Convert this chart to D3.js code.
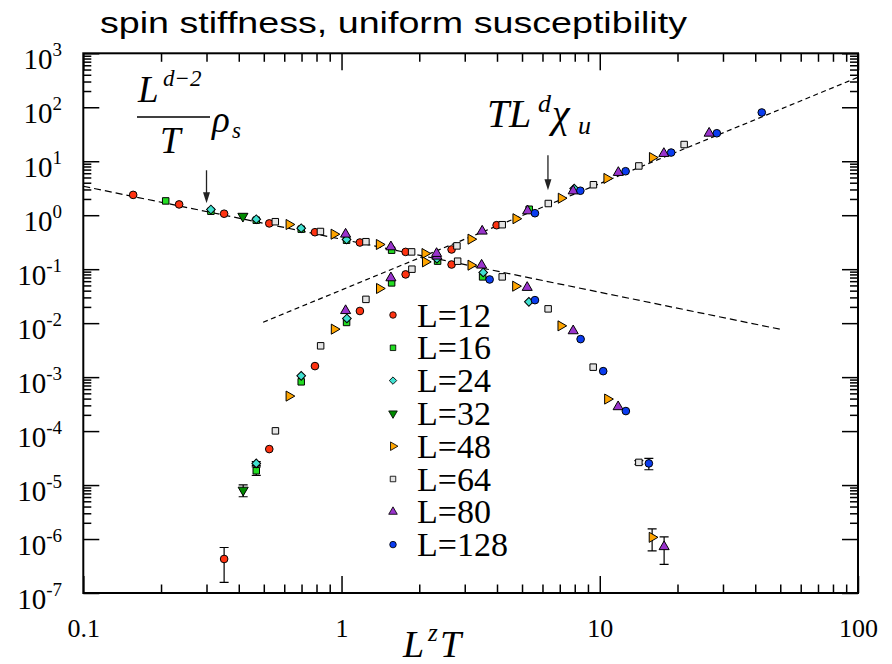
<!DOCTYPE html>
<html>
<head>
<meta charset="utf-8">
<script src="https://cdn.jsdelivr.net/npm/d3@7"></script>
</head>
<body style="margin:0;background:#fff">
<svg id="chart" width="892" height="664"></svg>
<script>
// values: [L^z T, value, (error)]
var rhoL12 = [[0.156,2.38],[0.235,1.585],[0.351,1.066],[0.525,0.705],[0.789,0.484],[1.178,0.312],[1.771,0.209],[2.668,0.122]];
var chiL12 = [[0.351,4.27e-7,2.7e-7],[0.525,4.64e-5],[0.789,1.60e-3],[1.178,0.0168],[1.771,0.080],[2.668,0.232],[3.986,0.653]];
var rhoL16 = [[0.2085,1.84],[0.312,1.186],[0.4675,0.808],[0.698,0.551],[1.046,0.344],[1.563,0.225],[2.355,0.141],[3.518,0.072]];
var chiL16 = [[0.4675,1.84e-5,3.3e-6],[0.698,8.18e-4],[1.046,0.0103],[1.563,0.0557],[5.33,1.29]];
var rhoL24 = [[0.312,1.275],[0.4675,0.843],[0.698,0.574],[1.046,0.355],[2.341,0.1565],[3.537,0.0869],[5.315,0.0248]];
var chiL24 = [[0.4675,2.52e-5,2e-6],[0.698,1.057e-3],[1.049,0.01222],[7.96,3.12]];
var rhoL32 = [[0.415,0.958]];
var chiL32 = [[0.416,8.07e-6,2e-6]];
var rhoL48 = [[0.626,0.673],[0.935,0.445],[1.40,0.2867],[2.103,0.195],[3.17,0.1186],[4.72,0.0484],[7.07,8.91e-3],[10.72,3.92e-4],[15.95,1.075e-6,4.7e-7]];
var chiL48 = [[0.626,4.45e-4],[0.937,7.74e-3],[1.402,0.0439],[2.112,0.1365],[3.17,0.36],[4.733,0.861],[7.09,2.065],[10.65,4.80],[15.98,11.71]];
var rhoL64 = [[0.554,0.758],[0.8285,0.499],[1.243,0.323],[1.868,0.209],[2.816,0.1406],[4.19,0.072],[6.31,0.0184],[9.43,1.53e-3],[14.17,2.63e-5,2e-6]];
var chiL64 = [[0.5546,1.01e-4],[0.830,3.80e-3],[1.243,0.0276],[1.873,0.1],[2.798,0.27],[4.19,0.667],[6.32,1.647],[9.45,3.67],[14.17,8.18],[21.22,20.4]];
var rhoL80 = [[1.037,0.445],[1.553,0.259],[2.341,0.174],[3.487,0.1186],[5.236,0.0458],[7.89,7.2e-3],[11.78,2.82e-4],[17.75,7.2e-7,3.8e-7]];
var chiL80 = [[1.037,0.01704],[1.553,0.069],[2.334,0.195],[3.505,0.506],[5.255,1.201],[7.89,2.81],[11.8,6.18],[17.71,13.89],[26.52,33.0]];
var rhoL128 = [[3.745,0.0645],[5.61,0.0267],[8.43,5.06e-3],[10.31,1.29e-3],[12.62,2.35e-4],[15.49,2.52e-5,6e-6]];
var chiL128 = [[5.61,1.089],[8.41,2.84],[12.59,6.53],[18.9,14.49],[28.4,33.0],[42.4,80.1]];

var legendNames = ["L=12", "L=16", "L=24", "L=32", "L=48", "L=64", "L=80", "L=128"];

// dashed guide lines (two end points each)
var fitRho = [[0.1, 3.44], [50, 0.0077]];
var fitChi = [[0.497, 0.0104], [100, 359]];

// arrows: x, from, to
var arrowX = [0.3, 6.3];
var arrowFrom = [6.8, 12.9];
var arrowTo = [1.67, 2.9];

var xTicks = [0.1, 1, 10, 100];
var xTickLabels = ["0.1", "1", "10", "100"];
var yExponents = [-7, -6, -5, -4, -3, -2, -1, 0, 1, 2, 3];

// styles
var SERIF = "Liberation Serif";
var SANS = "Liberation Sans";
var fills = ["#ff3311", "#22dd22", "#40e0d0", "#008b00", "#ffa500", "#e4e4e4", "#9933cc", "#0a3cf0"];
var shapes = ["circle", "square", "diamond", "down", "right", "square", "up", "circle"];

var series = legendNames.map(function(n, i) {
    return {name: n, rho: [rhoL12, rhoL16, rhoL24, rhoL32, rhoL48, rhoL64, rhoL80, rhoL128][i],
            chi: [chiL12, chiL16, chiL24, chiL32, chiL48, chiL64, chiL80, chiL128][i],
            fill: fills[i], shape: shapes[i]};
});

var frame = {left: 83.3, right: 858, top: 53.3, bottom: 593};
var svg = d3.select("#chart");

var x = d3.scaleLog().domain([0.1, 100]).range([frame.left, frame.right]);
var y = d3.scaleLog().domain([1e-7, 1e3]).range([frame.bottom, frame.top]);

// title
svg.append("text")
    .attr("x", 100).attr("y", 33)
    .attr("textLength", 587).attr("lengthAdjust", "spacingAndGlyphs")
    .attr("font-family", SANS)
    .attr("font-size", 30)
    .text("spin stiffness, uniform susceptibility");

// minor tick values
var xMinor = [];
[-1, 0, 1].forEach(function(e) { for (var k = 2; k <= 9; k++) xMinor.push(k * Math.pow(10, e)); });
var yMinor = [];
[-6, -4, -2, 0, 2].forEach(function(e) { for (var k = 2; k <= 9; k++) yMinor.push(k * Math.pow(10, e)); });
var yMajor = yExponents.map(function(e) { return Math.pow(10, e); });

function tickStyle(g) {
    g.attr("font-family", SERIF);
    g.select(".domain").remove();
    g.selectAll("line").attr("stroke", "#000").attr("stroke-width", 1.5);
}

// bottom axis
svg.append("g").attr("transform", "translate(0," + frame.bottom + ")")
    .call(d3.axisBottom(x).tickValues(xMinor).tickSizeInner(-8.5).tickSizeOuter(0).tickFormat(""))
    .call(tickStyle);
var xb = svg.append("g").attr("transform", "translate(0," + frame.bottom + ")")
    .call(d3.axisBottom(x).tickValues(xTicks).tickSizeInner(-17).tickSizeOuter(0)
        .tickFormat(function(d, i) { return xTickLabels[i]; }))
    .call(tickStyle)
    .attr("font-size", 26);
xb.selectAll("text").attr("y", 44).attr("dy", 0).attr("fill", "#000");

// top axis
svg.append("g").attr("transform", "translate(0," + frame.top + ")")
    .call(d3.axisTop(x).tickValues(xMinor).tickSizeInner(-8.5).tickSizeOuter(0).tickFormat(""))
    .call(tickStyle);
svg.append("g").attr("transform", "translate(0," + frame.top + ")")
    .call(d3.axisTop(x).tickValues(xTicks).tickSizeInner(-17).tickSizeOuter(0).tickFormat(""))
    .call(tickStyle);

// left axis
svg.append("g").attr("transform", "translate(" + frame.left + ",0)")
    .call(d3.axisLeft(y).tickValues(yMinor).tickSizeInner(-8).tickSizeOuter(0).tickFormat(""))
    .call(tickStyle);
var yl = svg.append("g").attr("transform", "translate(" + frame.left + ",0)")
    .call(d3.axisLeft(y).tickValues(yMajor).tickSizeInner(-16).tickSizeOuter(0).tickFormat(""))
    .call(tickStyle)
    .attr("font-size", 29);
yl.selectAll(".tick").each(function(d, i) {
    var t = d3.select(this).append("text")
        .attr("x", 62 - frame.left).attr("y", 15)
        .attr("text-anchor", "end").attr("fill", "#000");
    t.append("tspan").text("10");
    t.append("tspan").attr("dy", -13).attr("font-size", 19).text(yExponents[i]);
});

// right axis
svg.append("g").attr("transform", "translate(" + frame.right + ",0)")
    .call(d3.axisRight(y).tickValues(yMinor).tickSizeInner(-8).tickSizeOuter(0).tickFormat(""))
    .call(tickStyle);
svg.append("g").attr("transform", "translate(" + frame.right + ",0)")
    .call(d3.axisRight(y).tickValues(yMajor).tickSizeInner(-16).tickSizeOuter(0).tickFormat(""))
    .call(tickStyle);

// frame
svg.append("rect")
    .attr("x", frame.left).attr("y", frame.top)
    .attr("width", frame.right - frame.left).attr("height", frame.bottom - frame.top)
    .attr("fill", "none").attr("stroke", "#000").attr("stroke-width", 2);

// dashed guide lines
var line = d3.line().x(function(d) { return x(d[0]); }).y(function(d) { return y(d[1]); });
svg.append("path").attr("d", line(fitRho))
    .attr("fill", "none").attr("stroke", "#000").attr("stroke-width", 1.2).attr("stroke-dasharray", "7,4");
svg.append("path").attr("d", line(fitChi))
    .attr("fill", "none").attr("stroke", "#000").attr("stroke-width", 1.2).attr("stroke-dasharray", "5,3.5");

// arrows
arrowX.forEach(function(ax, i) {
    var px = x(ax), y0 = y(arrowFrom[i]), y1 = y(arrowTo[i]);
    svg.append("line").attr("x1", px).attr("x2", px).attr("y1", y0).attr("y2", y1 - 8)
        .attr("stroke", "#222").attr("stroke-width", 1.3);
    svg.append("path")
        .attr("d", "M" + (px - 3.5) + "," + (y1 - 11) + "L" + (px + 3.5) + "," + (y1 - 11) + "L" + px + "," + y1 + "Z")
        .attr("fill", "#222");
});

// math annotations
function mathText(g, px, py, size, s) {
    return g.append("text").attr("x", px).attr("y", py)
        .attr("font-family", SERIF).attr("font-style", "italic")
        .attr("font-size", size).text(s);
}
var ann1 = svg.append("g");
mathText(ann1, 138, 102, 37, "L");
mathText(ann1, 163, 86, 23, "d\u22122");
ann1.append("line").attr("x1", 137).attr("x2", 210).attr("y1", 117).attr("y2", 117)
    .attr("stroke", "#000").attr("stroke-width", 1.4);
mathText(ann1, 160, 153, 37, "T");
mathText(ann1, 212, 132, 37, "\u03c1");
mathText(ann1, 232, 138, 23, "s");

var ann2 = svg.append("g");
mathText(ann2, 487, 127, 40, "T");
mathText(ann2, 509, 127, 40, "L");
mathText(ann2, 538, 112, 26, "d");
mathText(ann2, 552, 127, 40, "\u03c7");
mathText(ann2, 578, 134, 26, "u");

// x label
var xl = svg.append("g");
mathText(xl, 403, 657, 38, "L");
mathText(xl, 428, 641, 25, "z");
mathText(xl, 440, 657, 38, "T");

// markers
function symbolPath(shape) {
    if (shape === "circle") return d3.symbol(d3.symbolCircle, 46)();
    if (shape === "square") return d3.symbol(d3.symbolSquare, 42)();
    if (shape === "diamond") return d3.symbol(d3.symbolSquare, 38)();
    return d3.symbol(d3.symbolTriangle, 44)();
}
function symbolRotate(shape) {
    return {diamond: 45, down: 180, right: 90, up: 0}[shape] || 0;
}

series.forEach(function(s) {
    var pts = s.rho.concat(s.chi);
    var g = svg.append("g");
    // error bars
    pts.filter(function(d) { return d.length > 2; }).forEach(function(d) {
        var px = x(d[0]), ylo = y(d[1] - d[2]), yhi = y(d[1] + d[2]);
        g.append("path")
            .attr("d", "M" + px + "," + ylo + "V" + yhi +
                "M" + (px - 4.5) + "," + ylo + "H" + (px + 4.5) +
                "M" + (px - 4.5) + "," + yhi + "H" + (px + 4.5))
            .attr("stroke", "#000").attr("stroke-width", 1.2).attr("fill", "none");
    });
    g.selectAll(".pt").data(pts).enter().append("path")
        .attr("class", "pt")
        .attr("d", symbolPath(s.shape))
        .attr("transform", function(d) {
            return "translate(" + x(d[0]) + "," + y(d[1]) + ") rotate(" + symbolRotate(s.shape) + ")";
        })
        .attr("fill", s.fill).attr("stroke", "#000").attr("stroke-width", 1);
});

// legend
var legend = svg.selectAll(".legend").data(series).enter().append("g")
    .attr("class", "legend")
    .attr("transform", function(d, i) { return "translate(393," + (315 + i * 32.8) + ")"; });
legend.append("path")
    .attr("d", function(d) { return symbolPath(d.shape); })
    .attr("transform", function(d) { return "rotate(" + symbolRotate(d.shape) + ") scale(0.85)"; })
    .attr("fill", function(d) { return d.fill; }).attr("stroke", "#000").attr("stroke-width", 1);
legend.append("text")
    .attr("x", 24).attr("y", 11.5)
    .attr("font-family", SERIF)
    .attr("font-size", 34)
    .text(function(d) { return d.name; });
</script>
</body>
</html>
